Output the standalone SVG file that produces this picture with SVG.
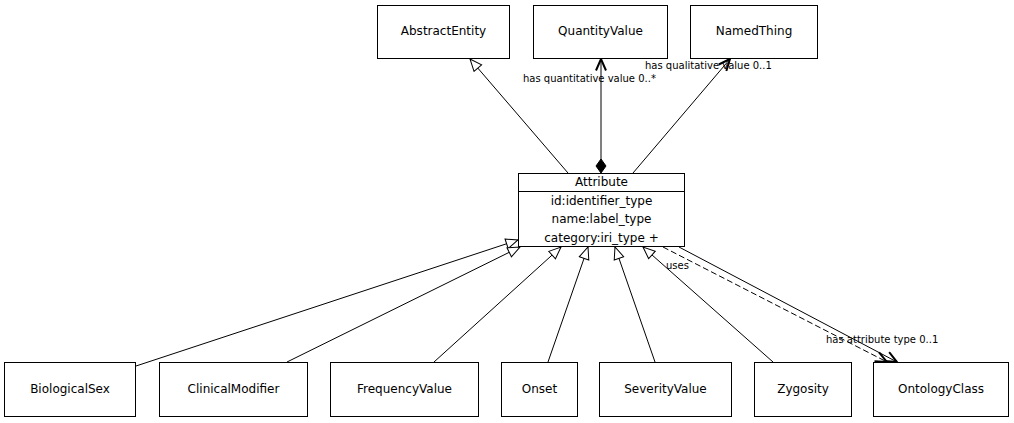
<svg xmlns="http://www.w3.org/2000/svg" width="1014" height="423" viewBox="0 0 1014 423">
<style>
.box{fill:#fff;stroke:#000;stroke-width:1}
.lbl{font-family:"DejaVu Sans","Liberation Sans",sans-serif;font-size:12px;fill:#000;text-anchor:middle}
.el{font-family:"DejaVu Sans","Liberation Sans",sans-serif;font-size:10px;fill:#000}
.ln{fill:none;stroke:#000;stroke-width:1}
.gen{marker-end:url(#tri)}
.assoc{marker-end:url(#open)}
.dash{stroke-dasharray:6,3}
</style>
<defs>
<marker id="tri" viewBox="0 0 14 12" refX="13" refY="6" markerWidth="14" markerHeight="12" markerUnits="userSpaceOnUse" orient="auto">
<path d="M1,1 L13,6 L1,11 z" fill="#fff" stroke="#000" stroke-width="1"/>
</marker>
<marker id="open" viewBox="0 0 14 12" refX="12.5" refY="6" markerWidth="14" markerHeight="12" markerUnits="userSpaceOnUse" orient="auto">
<path d="M1,1 L12.5,6 L1,11" fill="none" stroke="#000" stroke-width="2"/>
</marker>
</defs>
<rect width="1014" height="423" fill="#fff"/>
<g id="connectors">
<line class="ln gen" x1="568" y1="173" x2="470" y2="59"/>
<line class="ln assoc" x1="601" y1="160" x2="601" y2="59"/>
<polygon points="601,173 606,166 601,159 596,166" fill="#000" stroke="#000"/>
<line class="ln assoc" x1="633" y1="173" x2="730" y2="59"/>
<line class="ln gen" x1="136" y1="366" x2="518" y2="240"/>
<line class="ln gen" x1="287" y1="362" x2="520" y2="247"/>
<line class="ln gen" x1="434" y1="362" x2="561" y2="247"/>
<line class="ln gen" x1="548" y1="362" x2="588" y2="247"/>
<line class="ln gen" x1="655" y1="362" x2="615" y2="247"/>
<line class="ln gen" x1="773" y1="362" x2="643" y2="247"/>
<line class="ln assoc dash" x1="663" y1="247" x2="887" y2="362"/>
<line class="ln assoc" x1="679" y1="247" x2="897" y2="362"/>
<text class="el" x="523" y="82">has quantitative value 0..*</text>
<text class="el" x="645" y="69">has qualitative value 0..1</text>
<text class="el" x="666" y="269">uses</text>
<text class="el" x="826" y="343">has attribute type 0..1</text>
</g>
<g id="AbstractEntity"><rect class="box" x="377.5" y="5.5" width="132" height="53"/><text class="lbl" x="443.5" y="35">AbstractEntity</text></g>
<g id="QuantityValue"><rect class="box" x="533.5" y="5.5" width="134" height="53"/><text class="lbl" x="600.5" y="35">QuantityValue</text></g>
<g id="NamedThing"><rect class="box" x="690.5" y="5.5" width="127" height="53"/><text class="lbl" x="754" y="35">NamedThing</text></g>
<g id="Attribute">
<rect class="box" x="518.5" y="173.5" width="166" height="73"/>
<line class="ln" x1="518.5" y1="191.5" x2="684.5" y2="191.5"/>
<text class="lbl" x="601.5" y="186">Attribute</text>
<text class="lbl" x="601.5" y="205">id:identifier_type</text>
<text class="lbl" x="601.5" y="223">name:label_type</text>
<text class="lbl" x="601.5" y="242">category:iri_type +</text>
</g>
<g id="BiologicalSex"><rect class="box" x="4.5" y="362.5" width="131" height="54"/><text class="lbl" x="70" y="393">BiologicalSex</text></g>
<g id="ClinicalModifier"><rect class="box" x="159.5" y="362.5" width="148" height="54"/><text class="lbl" x="233.5" y="393">ClinicalModifier</text></g>
<g id="FrequencyValue"><rect class="box" x="330.5" y="362.5" width="148" height="54"/><text class="lbl" x="404.5" y="393">FrequencyValue</text></g>
<g id="Onset"><rect class="box" x="501.5" y="362.5" width="76" height="54"/><text class="lbl" x="539.5" y="393">Onset</text></g>
<g id="SeverityValue"><rect class="box" x="599.5" y="362.5" width="132" height="54"/><text class="lbl" x="665.5" y="393">SeverityValue</text></g>
<g id="Zygosity"><rect class="box" x="754.5" y="362.5" width="97" height="54"/><text class="lbl" x="803" y="393">Zygosity</text></g>
<g id="OntologyClass"><rect class="box" x="873.5" y="362.5" width="135" height="54"/><text class="lbl" x="941" y="393">OntologyClass</text></g>
</svg>
